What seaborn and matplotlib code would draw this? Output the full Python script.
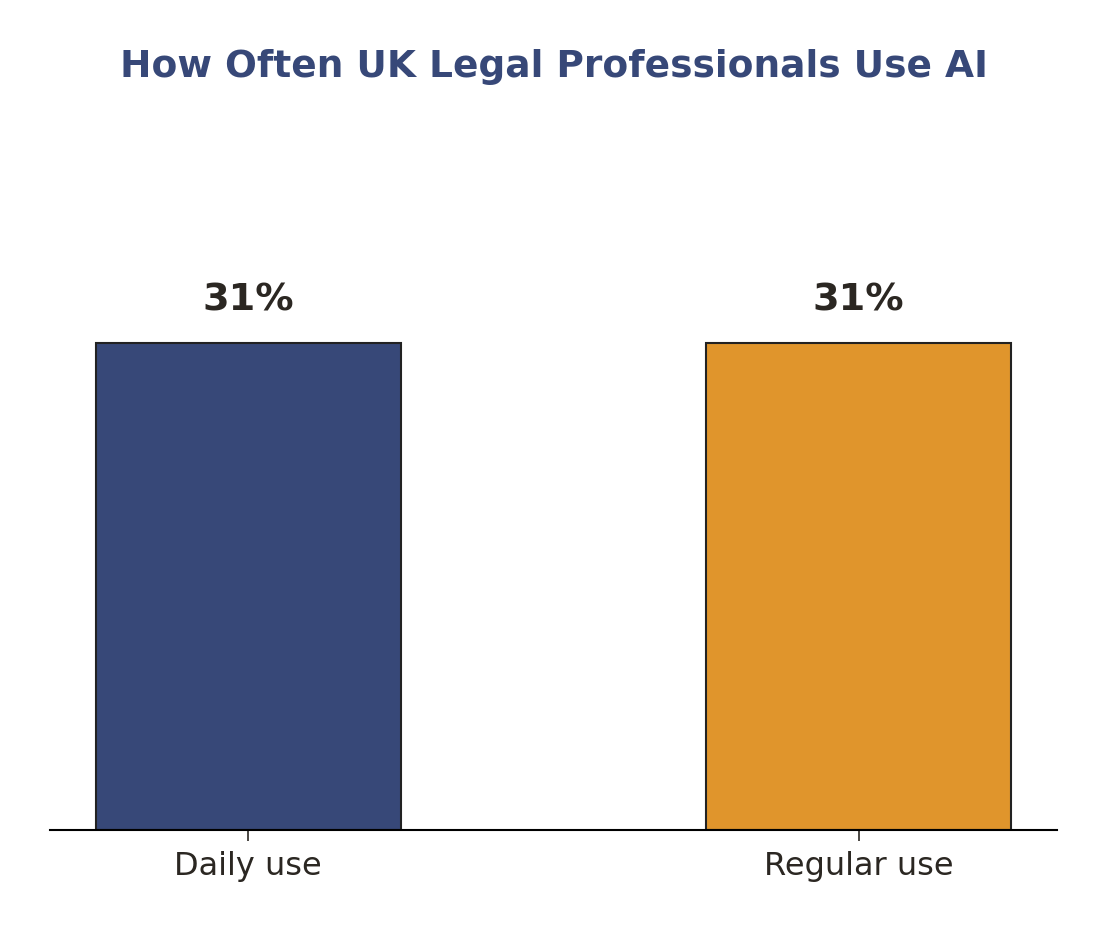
import matplotlib
matplotlib.use("Agg")
import matplotlib.pyplot as plt
import seaborn as sns
import pandas as pd

categories = ["Daily use", "Regular use"]
values = [31, 31]
labels = ["31%", "31%"]
colors = ["#374878", "#E0952C"]

sns.set_theme(style="white")
plt.rcParams['font.family'] = ['DejaVu Sans']

df = pd.DataFrame({"cat": categories, "val": values})
fig = plt.figure(figsize=(11.07, 9.31), dpi=100)
ax = fig.add_axes([50/1107, 1-830/931, 1007/1107, 628/931])
sns.barplot(data=df, x="cat", y="val", hue="cat", palette=colors, width=0.5,
            edgecolor="#222222", linewidth=1.5, legend=False, ax=ax, saturation=1)
ax.set_xlim(-0.325, 1.325)
ax.set_ylim(0, 40)
for i, (v, l) in enumerate(zip(values, labels)):
    ax.text(i, v + 1.55, l, ha="center", va="bottom", fontsize=27.5, fontweight="bold", color="#2b2722")
ax.set_xlabel("")
ax.set_ylabel("")
ax.set_yticks([])
for s in ["top", "right", "left"]:
    ax.spines[s].set_visible(False)
ax.spines["bottom"].set_color("black")
ax.spines["bottom"].set_linewidth(1.5)
ax.tick_params(axis="x", bottom=True, length=8, width=1.2, color="#2b2722", labelsize=23, labelcolor="#2b2722", pad=7)
fig.text(554/1107, 1-67/931, "How Often UK Legal Professionals Use AI", ha="center", va="center",
         fontsize=27, fontweight="bold", color="#374878")
fig.savefig("out.png", dpi=100)
